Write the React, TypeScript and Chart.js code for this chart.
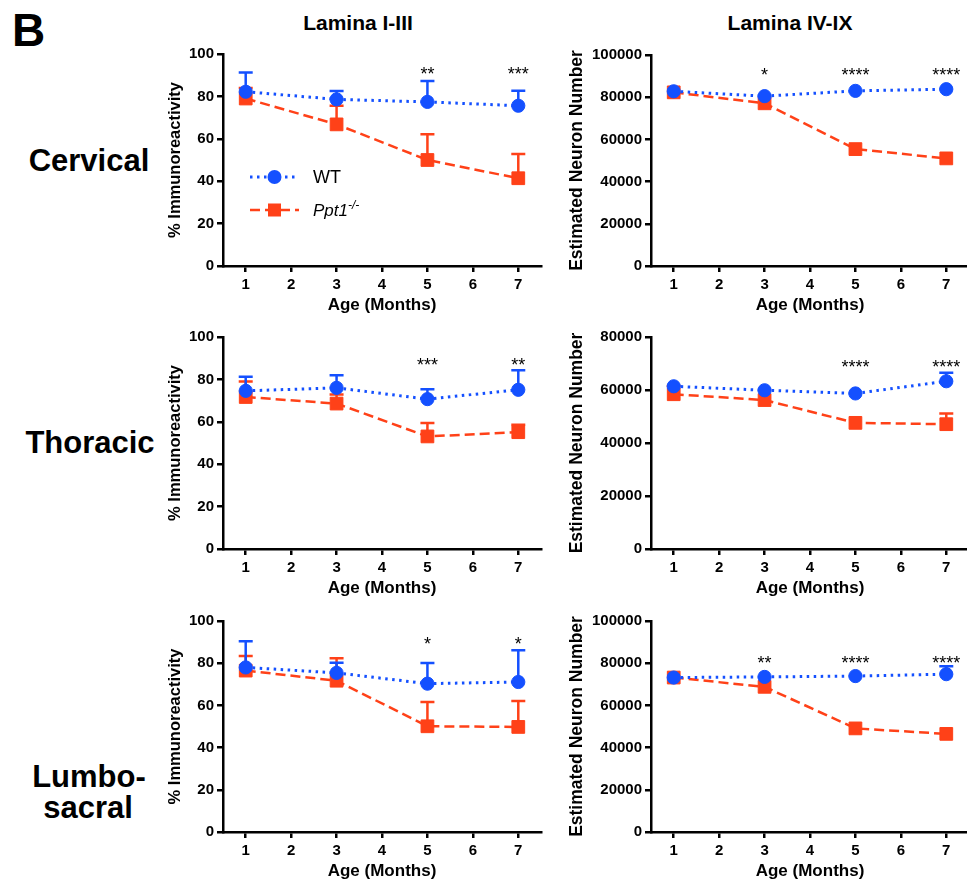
import React, { useEffect, useRef } from 'react';
import { Chart, registerables } from 'chart.js';

Chart.register(...registerables);

const FONT = '"Liberation Sans", Arial, Helvetica, sans-serif';
Chart.defaults.font.family = FONT;

const BLUE = '#1450ff';
const RED = '#ff4118';

const AGES = [1, 3, 5, 7];
const X_TICKS = [1, 2, 3, 4, 5, 6, 7];

// Cervical, Lamina I-III (% immunoreactivity)
const CERV_SUP_WT = [82.2, 78.6, 77.4, 75.6];
const CERV_SUP_WT_ERR = [9.1, 3.9, 9.9, 7.1];
const CERV_SUP_KO = [79.0, 66.8, 50.0, 41.4];
const CERV_SUP_KO_ERR = [5.0, 8.8, 12.1, 11.4];
const CERV_SUP_STARS = ['', '', '**', '***'];
const CERV_SUP_STAR_Y = 91.7;

// Cervical, Lamina IV-IX (estimated neuron number)
const CERV_DEEP_WT = [82800, 80500, 83000, 83800];
const CERV_DEEP_WT_ERR = [0, 0, 0, 0];
const CERV_DEEP_KO = [82300, 77100, 55400, 51000];
const CERV_DEEP_KO_ERR = [0, 0, 0, 0];
const CERV_DEEP_STARS = ['', '*', '****', '****'];
const CERV_DEEP_STAR_Y = 91300;

// Thoracic, Lamina I-III
const THOR_SUP_WT = [74.6, 76.0, 70.7, 75.1];
const THOR_SUP_WT_ERR = [6.7, 6.0, 4.7, 9.2];
const THOR_SUP_KO = [71.7, 68.6, 53.1, 55.1];
const THOR_SUP_KO_ERR = [7.3, 4.3, 6.3, 3.5];
const THOR_SUP_STARS = ['', '', '***', '**'];
const THOR_SUP_STAR_Y = 87.7;

// Thoracic, Lamina IV-IX
const THOR_DEEP_WT = [61400, 59900, 58700, 63300];
const THOR_DEEP_WT_ERR = [0, 0, 0, 3200];
const THOR_DEEP_KO = [58400, 56200, 47600, 47100];
const THOR_DEEP_KO_ERR = [3100, 0, 0, 4000];
const THOR_DEEP_STARS = ['', '', '****', '****'];
const THOR_DEEP_STAR_Y = 69600;

// Lumbosacral, Lamina I-III
const LUMB_SUP_WT = [78.0, 75.4, 70.3, 71.1];
const LUMB_SUP_WT_ERR = [12.4, 4.8, 9.8, 15.0];
const LUMB_SUP_KO = [76.5, 71.7, 50.1, 49.8];
const LUMB_SUP_KO_ERR = [6.9, 10.7, 11.5, 12.3];
const LUMB_SUP_STARS = ['', '', '*', '*'];
const LUMB_SUP_STAR_Y = 90;

// Lumbosacral, Lamina IV-IX
const LUMB_DEEP_WT = [73200, 73500, 73900, 74800];
const LUMB_DEEP_WT_ERR = [0, 0, 0, 3800];
const LUMB_DEEP_KO = [73200, 68800, 49100, 46500];
const LUMB_DEEP_KO_ERR = [0, 0, 0, 0];
const LUMB_DEEP_STARS = ['', '**', '****', '****'];
const LUMB_DEEP_STAR_Y = 80900;

const errorBarPlugin = {
  id: 'errorBars',
  beforeDatasetsDraw(chart: any) {
    const { ctx } = chart;
    const xs = chart.scales.x;
    const ys = chart.scales.y;
    const sets = chart.data.datasets;
    for (let d = sets.length - 1; d >= 0; d--) {
      const ds = sets[d];
      const errs: number[] = ds.errors || [];
      ctx.save();
      ctx.strokeStyle = ds.borderColor;
      ctx.lineWidth = 2.5;
      ctx.setLineDash([]);
      ds.data.forEach((pt: any, i: number) => {
        const e = errs[i];
        if (!e) return;
        const px = xs.getPixelForValue(pt.x);
        const py = ys.getPixelForValue(pt.y);
        const ty = ys.getPixelForValue(pt.y + e);
        ctx.beginPath();
        ctx.moveTo(px, py);
        ctx.lineTo(px, ty);
        ctx.moveTo(px - 7, ty);
        ctx.lineTo(px + 7, ty);
        ctx.stroke();
      });
      ctx.restore();
    }
  },
};

const starsPlugin = {
  id: 'stars',
  afterDatasetsDraw(chart: any, _args: any, opts: any) {
    if (!opts || !opts.labels) return;
    const { ctx } = chart;
    const xs = chart.scales.x;
    const ys = chart.scales.y;
    ctx.save();
    ctx.fillStyle = '#000';
    ctx.font = `18px ${FONT}`;
    ctx.textAlign = 'center';
    ctx.textBaseline = 'middle';
    opts.labels.forEach((s: string, i: number) => {
      if (!s) return;
      ctx.fillText(s, xs.getPixelForValue(AGES[i]), ys.getPixelForValue(opts.level) + 3);
    });
    ctx.restore();
  },
};

const legendPlugin = {
  id: 'sampleLegend',
  afterDraw(chart: any, _args: any, opts: any) {
    if (!opts || !opts.show) return;
    const { ctx, chartArea } = chart;
    const x0 = chartArea.left + 27;
    const x1 = chartArea.left + 76;
    const xm = (x0 + x1) / 2;
    const y1 = chartArea.top + 123;
    const y2 = chartArea.top + 156;
    ctx.save();
    ctx.lineWidth = 3;
    ctx.strokeStyle = BLUE;
    ctx.setLineDash([2.5, 4.5]);
    ctx.beginPath();
    ctx.moveTo(x0, y1);
    ctx.lineTo(x1, y1);
    ctx.stroke();
    ctx.strokeStyle = RED;
    ctx.lineWidth = 2.5;
    ctx.setLineDash([10, 5]);
    ctx.beginPath();
    ctx.moveTo(x0, y2);
    ctx.lineTo(x1, y2);
    ctx.stroke();
    ctx.setLineDash([]);
    ctx.fillStyle = BLUE;
    ctx.beginPath();
    ctx.arc(xm, y1, 7, 0, Math.PI * 2);
    ctx.fill();
    ctx.fillStyle = RED;
    ctx.fillRect(xm - 6.5, y2 - 6.5, 13, 13);
    ctx.restore();
  },
};

type Spec = {
  left: number;
  top: number;
  w: number;
  h: number;
  yW: number;
  yTitlePad: number;
  yTitleSize: number;
  yTitle: string;
  yMax: number;
  yStep: number;
  wt: number[];
  wtErr: number[];
  ko: number[];
  koErr: number[];
  stars: string[];
  starY: number;
  legend?: boolean;
};

function makeConfig(s: Spec): any {
  const axisStyle = {
    border: { display: true, color: '#000', width: 2.5 },
    grid: {
      display: true,
      drawOnChartArea: false,
      drawTicks: true,
      tickLength: 6,
      color: '#000',
      lineWidth: 2.5,
    },
  };
  return {
    type: 'line',
    data: {
      datasets: [
        {
          label: 'WT',
          data: AGES.map((x, i) => ({ x, y: s.wt[i] })),
          errors: s.wtErr,
          borderColor: BLUE,
          backgroundColor: BLUE,
          borderWidth: 3,
          borderDash: [2.5, 4.5],
          tension: 0,
          pointStyle: 'circle',
          pointRadius: 6.6,
          pointBorderWidth: 1,
          pointBorderColor: BLUE,
          pointBackgroundColor: BLUE,
        },
        {
          label: 'Ppt1-/-',
          data: AGES.map((x, i) => ({ x, y: s.ko[i] })),
          errors: s.koErr,
          borderColor: RED,
          backgroundColor: RED,
          borderWidth: 2.5,
          borderDash: [10, 5],
          tension: 0,
          pointStyle: 'rect',
          pointRadius: 9,
          pointBorderWidth: 1,
          pointBorderColor: RED,
          pointBackgroundColor: RED,
        },
      ],
    },
    options: {
      animation: false,
      responsive: false,
      maintainAspectRatio: false,
      events: [],
      layout: { padding: { top: 20, right: 10, left: 0, bottom: 0 } },
      plugins: {
        legend: { display: false },
        tooltip: { enabled: false },
        stars: { labels: s.stars, level: s.starY },
        sampleLegend: { show: !!s.legend },
      },
      scales: {
        x: {
          type: 'linear',
          min: 0.5,
          max: 7.5,
          afterBuildTicks: (sc: any) => {
            sc.ticks = X_TICKS.map((v) => ({ value: v }));
          },
          afterFit: (sc: any) => {
            sc.height = 50;
          },
          ...axisStyle,
          ticks: {
            color: '#000',
            padding: 4,
            maxRotation: 0,
            autoSkip: false,
            font: { family: FONT, size: 15, weight: 'bold' },
            callback: (v: any) => String(v),
          },
          title: {
            display: true,
            text: 'Age (Months)',
            color: '#000',
            font: { family: FONT, size: 17, weight: 'bold', lineHeight: 1.2 },
            padding: { top: 0, bottom: 0 },
          },
        },
        y: {
          type: 'linear',
          min: 0,
          max: s.yMax,
          afterFit: (sc: any) => {
            sc.width = s.yW;
          },
          ...axisStyle,
          ticks: {
            stepSize: s.yStep,
            color: '#000',
            padding: 3,
            font: { family: FONT, size: 15, weight: 'bold' },
            callback: (v: any) => String(v),
          },
          title: {
            display: true,
            text: s.yTitle,
            color: '#000',
            font: { family: FONT, size: s.yTitleSize, weight: 'bold', lineHeight: 1.2 },
            padding: { top: s.yTitlePad, bottom: 0 },
          },
        },
      },
    },
    plugins: [errorBarPlugin, starsPlugin, legendPlugin],
  };
}

function Panel({ spec }: { spec: Spec }) {
  const ref = useRef<HTMLCanvasElement | null>(null);
  useEffect(() => {
    if (!ref.current) return;
    const chart = new Chart(ref.current, makeConfig(spec));
    return () => chart.destroy();
  }, []);
  return (
    <canvas
      ref={ref}
      width={spec.w}
      height={spec.h}
      style={{ position: 'absolute', left: spec.left, top: spec.top, width: spec.w, height: spec.h }}
    />
  );
}

const SUP_TITLE = '% Immunoreactivity';
const DEEP_TITLE = 'Estimated Neuron Number';

function colLeft(topY: number, bottomY: number) {
  const top = topY - 20;
  return { left: 148, top, w: 403, h: bottomY - top + 50, yW: 75, yTitlePad: 18, yTitleSize: 16.5, yTitle: SUP_TITLE, yMax: 100, yStep: 20 };
}
function colRight(topY: number, bottomY: number, yMax: number) {
  const top = topY - 20;
  return { left: 551, top, w: 428, h: bottomY - top + 50, yW: 100, yTitlePad: 15.5, yTitleSize: 17.5, yTitle: DEEP_TITLE, yMax, yStep: 20000 };
}

const PANELS: Spec[] = [
  { ...colLeft(54, 266), wt: CERV_SUP_WT, wtErr: CERV_SUP_WT_ERR, ko: CERV_SUP_KO, koErr: CERV_SUP_KO_ERR, stars: CERV_SUP_STARS, starY: CERV_SUP_STAR_Y, legend: true },
  { ...colRight(55, 266, 100000), wt: CERV_DEEP_WT, wtErr: CERV_DEEP_WT_ERR, ko: CERV_DEEP_KO, koErr: CERV_DEEP_KO_ERR, stars: CERV_DEEP_STARS, starY: CERV_DEEP_STAR_Y },
  { ...colLeft(337, 549), wt: THOR_SUP_WT, wtErr: THOR_SUP_WT_ERR, ko: THOR_SUP_KO, koErr: THOR_SUP_KO_ERR, stars: THOR_SUP_STARS, starY: THOR_SUP_STAR_Y },
  { ...colRight(337, 549, 80000), wt: THOR_DEEP_WT, wtErr: THOR_DEEP_WT_ERR, ko: THOR_DEEP_KO, koErr: THOR_DEEP_KO_ERR, stars: THOR_DEEP_STARS, starY: THOR_DEEP_STAR_Y },
  { ...colLeft(621, 832), wt: LUMB_SUP_WT, wtErr: LUMB_SUP_WT_ERR, ko: LUMB_SUP_KO, koErr: LUMB_SUP_KO_ERR, stars: LUMB_SUP_STARS, starY: LUMB_SUP_STAR_Y },
  { ...colRight(621, 832, 100000), wt: LUMB_DEEP_WT, wtErr: LUMB_DEEP_WT_ERR, ko: LUMB_DEEP_KO, koErr: LUMB_DEEP_KO_ERR, stars: LUMB_DEEP_STARS, starY: LUMB_DEEP_STAR_Y },
];

function Label({ x, y, size, text, bold = true, center = true, italic = false, children }: any) {
  return (
    <div
      style={{
        position: 'absolute',
        left: x,
        top: y,
        transform: center ? 'translate(-50%, -50%)' : 'translate(0, -50%)',
        fontFamily: FONT,
        fontSize: size,
        fontWeight: bold ? 'bold' : 'normal',
        fontStyle: italic ? 'italic' : 'normal',
        lineHeight: 1,
        whiteSpace: 'nowrap',
        color: '#000',
      }}
    >
      {text}
      {children}
    </div>
  );
}

export default function App() {
  return (
    <div
      style={{
        position: 'absolute',
        left: 0,
        top: 0,
        width: 967,
        height: 885,
        overflow: 'hidden',
        background: '#fff',
      }}
    >
      <Label x={12} y={30} size={46} text="B" center={false} />
      <Label x={358} y={22} size={21} text="Lamina I-III" />
      <Label x={790} y={22} size={21} text="Lamina IV-IX" />
      <Label x={89} y={160} size={31} text="Cervical" />
      <Label x={90} y={442} size={31} text="Thoracic" />
      <Label x={89} y={776} size={31} text="Lumbo-" />
      <Label x={88} y={807} size={31} text="sacral" />
      {PANELS.map((p, i) => (
        <Panel key={i} spec={p} />
      ))}
      <Label x={313} y={177} size={18} text="WT" bold={false} center={false} />
      <Label x={313} y={210} size={17} text="Ppt1" bold={false} italic center={false}>
        <sup style={{ fontSize: 12, verticalAlign: 'super', lineHeight: 0 }}>-/-</sup>
      </Label>
    </div>
  );
}
